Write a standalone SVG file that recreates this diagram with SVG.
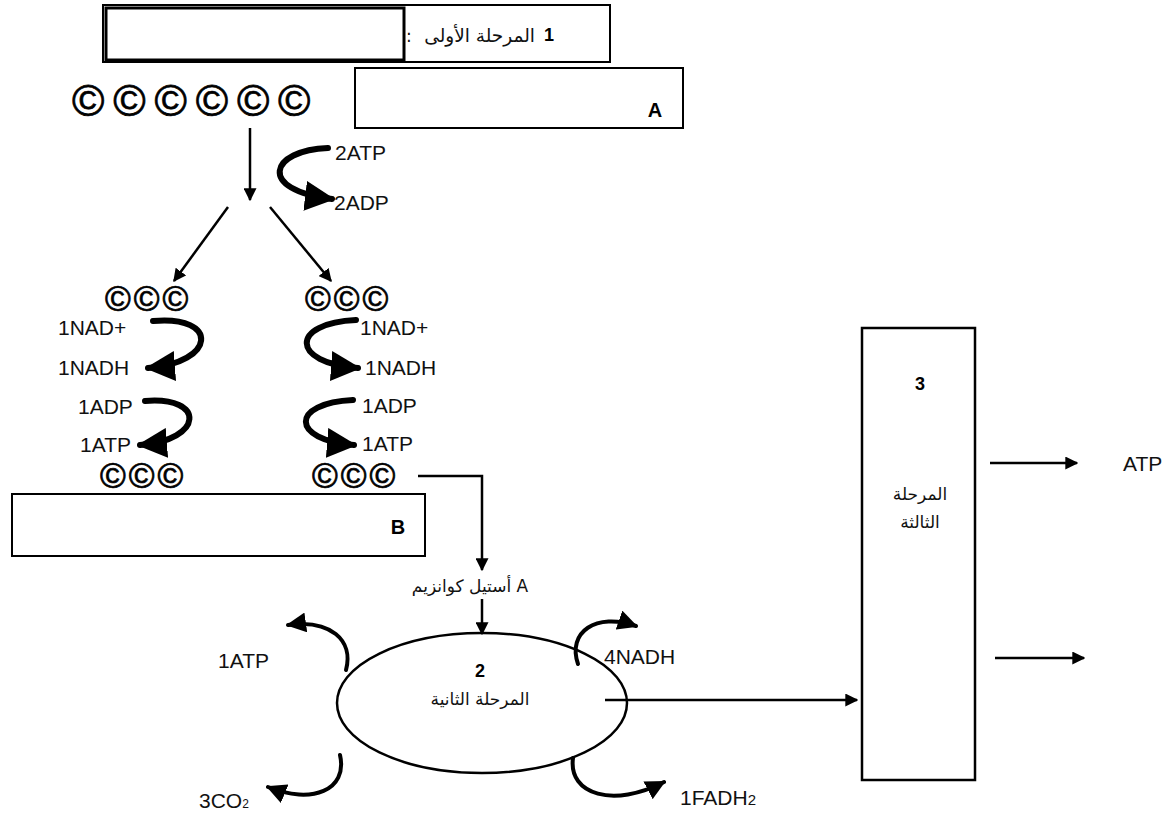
<svg xmlns="http://www.w3.org/2000/svg" width="1171" height="820" viewBox="0 0 1171 820">
<defs>
<style>
.box{fill:#fff;stroke:#000;stroke-width:2}
.lbl{font-family:"Liberation Sans",Arial,sans-serif;font-size:21px;fill:#111}
.bold{font-family:"Liberation Sans",Arial,sans-serif;font-weight:bold;fill:#000}
.ar{font-family:"DejaVu Sans","Noto Sans",sans-serif;font-size:17px;fill:#111}
.cc{font-family:"Liberation Sans",Arial,sans-serif;fill:#000;stroke:#000;stroke-width:0.7}
.thick{fill:none;stroke:#000;stroke-width:6;stroke-linecap:round}
.mid{fill:none;stroke:#000;stroke-width:4;stroke-linecap:round}
.line{fill:none;stroke:#000;stroke-width:2.5}
</style>
<marker id="big" viewBox="0 0 10 10" refX="9" refY="5" markerWidth="30" markerHeight="30" markerUnits="userSpaceOnUse" orient="auto"><path d="M0,0 L10,5 L0,10 z" fill="#000"/></marker>
<marker id="med" viewBox="0 0 10 10" refX="9" refY="5" markerWidth="20" markerHeight="20" markerUnits="userSpaceOnUse" orient="auto"><path d="M0,0 L10,5 L0,10 z" fill="#000"/></marker>
<marker id="sm" viewBox="0 0 10 10" refX="9" refY="5" markerWidth="13" markerHeight="13" markerUnits="userSpaceOnUse" orient="auto"><path d="M0,0 L10,5 L0,10 z" fill="#000"/></marker>
</defs>
<rect width="1171" height="820" fill="#fff"/>

<g id="stage1-title">
<rect x="103" y="5" width="507" height="57" class="box"/>
<rect x="106" y="8" width="298" height="52" fill="#fff" stroke="#000" stroke-width="3"/>
<text x="406" y="42" class="ar">:</text>
<text x="535" y="42" class="ar" text-anchor="end" style="font-size:18.5px">المرحلة الأولى</text>
<text x="549" y="41" class="bold" font-size="18" text-anchor="middle">1</text>
</g>

<g id="box-A">
<rect x="355" y="68" width="328" height="60" class="box"/>
<text x="655" y="117" class="bold" font-size="20" text-anchor="middle">A</text>
</g>

<g id="glucose">
<text x="72" y="116" class="cc" font-size="44" letter-spacing="8.8">©©©©©©</text>
</g>

<g id="pyruvate-left-top"><text x="105" y="311" class="cc" font-size="35" letter-spacing="3">©©©</text></g>
<g id="pyruvate-right-top"><text x="305" y="311" class="cc" font-size="35" letter-spacing="3">©©©</text></g>
<g id="pyruvate-left-bottom"><text x="100" y="488" class="cc" font-size="35" letter-spacing="3">©©©</text></g>
<g id="pyruvate-right-bottom"><text x="312" y="488" class="cc" font-size="35" letter-spacing="3">©©©</text></g>

<g id="labels-glycolysis">
<text x="335" y="160" class="lbl">2ATP</text>
<text x="334" y="210" class="lbl">2ADP</text>
<text x="58" y="335" class="lbl">1NAD+</text>
<text x="58" y="375" class="lbl">1NADH</text>
<text x="78" y="414" class="lbl">1ADP</text>
<text x="80" y="452" class="lbl">1ATP</text>
<text x="360" y="335" class="lbl">1NAD+</text>
<text x="365" y="375" class="lbl">1NADH</text>
<text x="362" y="413" class="lbl">1ADP</text>
<text x="362" y="451" class="lbl">1ATP</text>
</g>

<g id="box-B">
<rect x="12" y="494" width="413" height="62" class="box"/>
<text x="398" y="534" class="bold" font-size="20" text-anchor="middle">B</text>
</g>

<g id="acetyl-coA">
<text x="470" y="592" class="ar" text-anchor="middle">أستيل كوانزيم A</text>
</g>

<g id="stage2">
<ellipse cx="482" cy="703" rx="145" ry="70" fill="#fff" stroke="#000" stroke-width="2.5"/>
<text x="480" y="677" class="bold" font-size="18" text-anchor="middle">2</text>
<text x="480" y="705" class="ar" text-anchor="middle">المرحلة الثانية</text>
</g>

<g id="krebs-products">
<text x="218" y="668" class="lbl">1ATP</text>
<text x="604" y="664" class="lbl">4NADH</text>
<text x="199" y="808" class="lbl">3CO<tspan font-size="12">2</tspan></text>
<text x="680" y="805" class="lbl">1FADH<tspan font-size="15">2</tspan></text>
</g>

<g id="stage3">
<rect x="862" y="328" width="113" height="452" fill="#fff" stroke="#000" stroke-width="2.5"/>
<text x="920" y="390" class="bold" font-size="18" text-anchor="middle">3</text>
<text x="920" y="500" class="ar" text-anchor="middle">المرحلة</text>
<text x="920" y="528" class="ar" text-anchor="middle">الثالثة</text>
</g>

<g id="atp-out">
<text x="1123" y="471" class="lbl">ATP</text>
</g>

<g id="connectors">
<line x1="250" y1="128" x2="250" y2="200" class="line" marker-end="url(#sm)"/>
<line x1="228" y1="207" x2="174" y2="281" class="line" marker-end="url(#sm)"/>
<line x1="270" y1="207" x2="331" y2="281" class="line" marker-end="url(#sm)"/>
<path d="M328,148 C270,150 256,190 332,199" class="thick" marker-end="url(#big)"/>
<path d="M153,321 C220,315 216,363 148,368" class="thick" marker-end="url(#big)"/>
<path d="M145,401 C206,396 204,440 140,445" class="thick" marker-end="url(#big)"/>
<path d="M356,320 C290,323 290,363 358,368" class="thick" marker-end="url(#big)"/>
<path d="M353,400 C290,403 290,440 354,445" class="thick" marker-end="url(#big)"/>
<polyline points="418,476 482,476 482,570" class="line" marker-end="url(#sm)"/>
<line x1="482" y1="599" x2="482" y2="634" class="line" marker-end="url(#sm)"/>
<path d="M346,670 C354,640 330,619 288,625" class="mid" marker-end="url(#med)"/>
<path d="M578,664 C567,632 596,612 636,626" class="mid" marker-end="url(#med)"/>
<path d="M340,755 C348,790 312,805 268,787" class="mid" marker-end="url(#med)"/>
<path d="M573,758 C568,795 614,808 664,782" class="mid" marker-end="url(#med)"/>
<line x1="605" y1="700" x2="857" y2="700" class="line" marker-end="url(#sm)"/>
<line x1="990" y1="463" x2="1077" y2="463" class="line" marker-end="url(#sm)"/>
<line x1="995" y1="658" x2="1084" y2="658" class="line" marker-end="url(#sm)"/>
</g>
</svg>
